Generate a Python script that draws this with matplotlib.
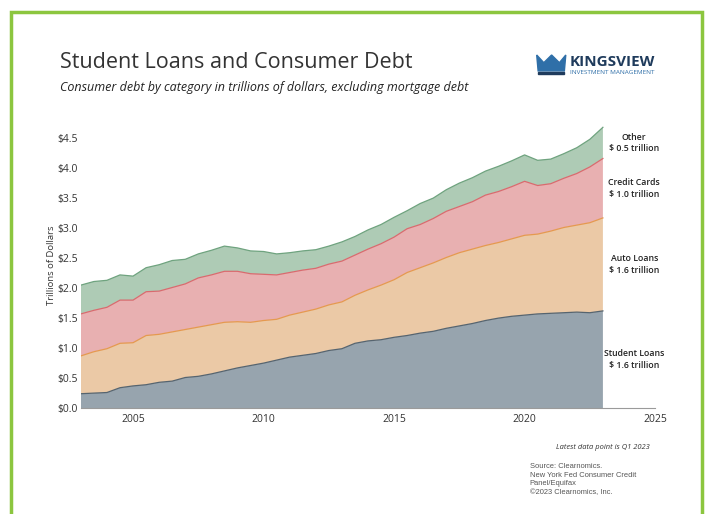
import numpy as np
import matplotlib
matplotlib.use("Agg")
import matplotlib.pyplot as plt
from matplotlib.patches import Rectangle, Polygon

plt.rcParams['font.family'] = ['Open Sans', 'DejaVu Sans']

# half-year points, Q1 2003 .. Q1 2023 (trillions of dollars)
years = np.arange(2003.0, 2023.01, 0.5)

student = [0.24, 0.25, 0.26, 0.34, 0.37, 0.39, 0.43, 0.45, 0.51, 0.53,
           0.57, 0.62, 0.67, 0.71, 0.75, 0.80, 0.85, 0.88, 0.91, 0.96,
           0.99, 1.08, 1.12, 1.14, 1.18, 1.21, 1.25, 1.28, 1.33, 1.37,
           1.41, 1.46, 1.50, 1.53, 1.55, 1.57, 1.58, 1.59, 1.60, 1.59, 1.62]
auto = [0.63, 0.69, 0.73, 0.74, 0.72, 0.82, 0.80, 0.82, 0.80, 0.82,
        0.82, 0.81, 0.77, 0.72, 0.71, 0.68, 0.70, 0.72, 0.74, 0.76,
        0.78, 0.80, 0.85, 0.91, 0.96, 1.05, 1.09, 1.14, 1.18, 1.22,
        1.24, 1.25, 1.26, 1.29, 1.33, 1.33, 1.37, 1.42, 1.45, 1.50, 1.55]
cards = [0.70, 0.69, 0.69, 0.72, 0.71, 0.73, 0.72, 0.74, 0.76, 0.82,
         0.83, 0.85, 0.84, 0.81, 0.77, 0.74, 0.71, 0.70, 0.68, 0.68,
         0.68, 0.67, 0.68, 0.69, 0.71, 0.73, 0.72, 0.74, 0.77, 0.77,
         0.79, 0.84, 0.85, 0.87, 0.90, 0.81, 0.79, 0.82, 0.86, 0.93, 0.99]
other = [0.48, 0.48, 0.45, 0.42, 0.40, 0.40, 0.44, 0.45, 0.41, 0.40,
         0.41, 0.42, 0.39, 0.38, 0.38, 0.35, 0.33, 0.32, 0.31, 0.30,
         0.32, 0.31, 0.32, 0.32, 0.33, 0.30, 0.35, 0.34, 0.36, 0.39,
         0.40, 0.40, 0.42, 0.43, 0.44, 0.42, 0.41, 0.41, 0.43, 0.46, 0.52]

names = ["Student Loans", "Auto Loans", "Credit Cards", "Other"]
fills = ["#97a4ae", "#ebc9a6", "#e8b0b1", "#aecbb5"]
edges = ["#56646f", "#e5994f", "#d96a6e", "#6fa37f"]

series = [student, auto, cards, other]
tops = np.cumsum(np.array(series), axis=0)

fig = plt.figure(figsize=(7.09, 5.14), dpi=100)
ax = fig.add_axes([0.114, 0.206, 0.81, 0.5545])

ax.stackplot(years, *series, colors=fills, linewidth=0)
for top, ec in zip(tops, edges):
    ax.plot(years, top, color=ec, lw=0.9)

ax.set_xlim(2003, 2025)
ax.set_ylim(0, 4.75)
ax.set_xticks([2005, 2010, 2015, 2020, 2025])
ax.set_yticks(np.arange(0, 4.51, 0.5))
ax.set_yticklabels([f"${v:.1f}" for v in np.arange(0, 4.51, 0.5)])
ax.tick_params(axis="y", length=0, labelsize=7.5, colors="#333333", pad=2)
ax.tick_params(axis="x", length=0, labelsize=7.5, colors="#333333", pad=4)
for s in ["top", "right", "left"]:
    ax.spines[s].set_visible(False)
ax.spines["bottom"].set_color("#9a9a9a")
ax.set_ylabel("Trillions of Dollars", fontsize=6.8, color="#333333", labelpad=1)

# right-hand labels at the middle of each band's last value
for name, val, top in zip(names, [s[-1] for s in series], tops):
    mid = top[-1] - val / 2
    ax.text(2024.2, mid, f"{name}\n$ {val:.1f} trillion", fontsize=6.3,
            ha="center", va="center", color="#222222", linespacing=1.4,
            fontweight="semibold")

# titles
fig.text(0.085, 0.879, "Student Loans and Consumer Debt", fontsize=15.5,
         color="#333333", va="center")
fig.text(0.085, 0.830, "Consumer debt by category in trillions of dollars, excluding mortgage debt",
         fontsize=9.0, style="italic", color="#222222", va="center")

# logo
crown = Polygon([(0.757, 0.893), (0.767, 0.878), (0.778, 0.893), (0.789, 0.878),
                 (0.798, 0.893), (0.796, 0.862), (0.759, 0.862)],
                closed=True, transform=fig.transFigure, color="#2f6fa8")
fig.patches.append(crown)
fig.patches.append(Rectangle((0.759, 0.856), 0.037, 0.004, transform=fig.transFigure,
                             color="#1f3b5c"))
fig.text(0.803, 0.880, "KINGSVIEW", fontsize=11, fontweight="bold", color="#1f3b5c",
         va="center")
fig.text(0.804, 0.859, "INVESTMENT MANAGEMENT", fontsize=4.6, color="#2f6fa8", va="center")

# footer
fig.text(0.916, 0.130, "Latest data point is Q1 2023", fontsize=5.4, style="italic",
         ha="right", va="center", color="#333333")
fig.text(0.747, 0.099, "Source: Clearnomics.\nNew York Fed Consumer Credit\nPanel/Equifax\n\u00a92023 Clearnomics, Inc.",
         fontsize=5.4, color="#555555", linespacing=1.3, family="Liberation Sans",
         va="top")

# green frame
frame = Rectangle((0.0155, -0.05), 0.975, 1.027, transform=fig.transFigure,
                  fill=False, edgecolor="#8cc63f", lw=2.5)
fig.patches.append(frame)

fig.savefig("out.png", dpi=100)
